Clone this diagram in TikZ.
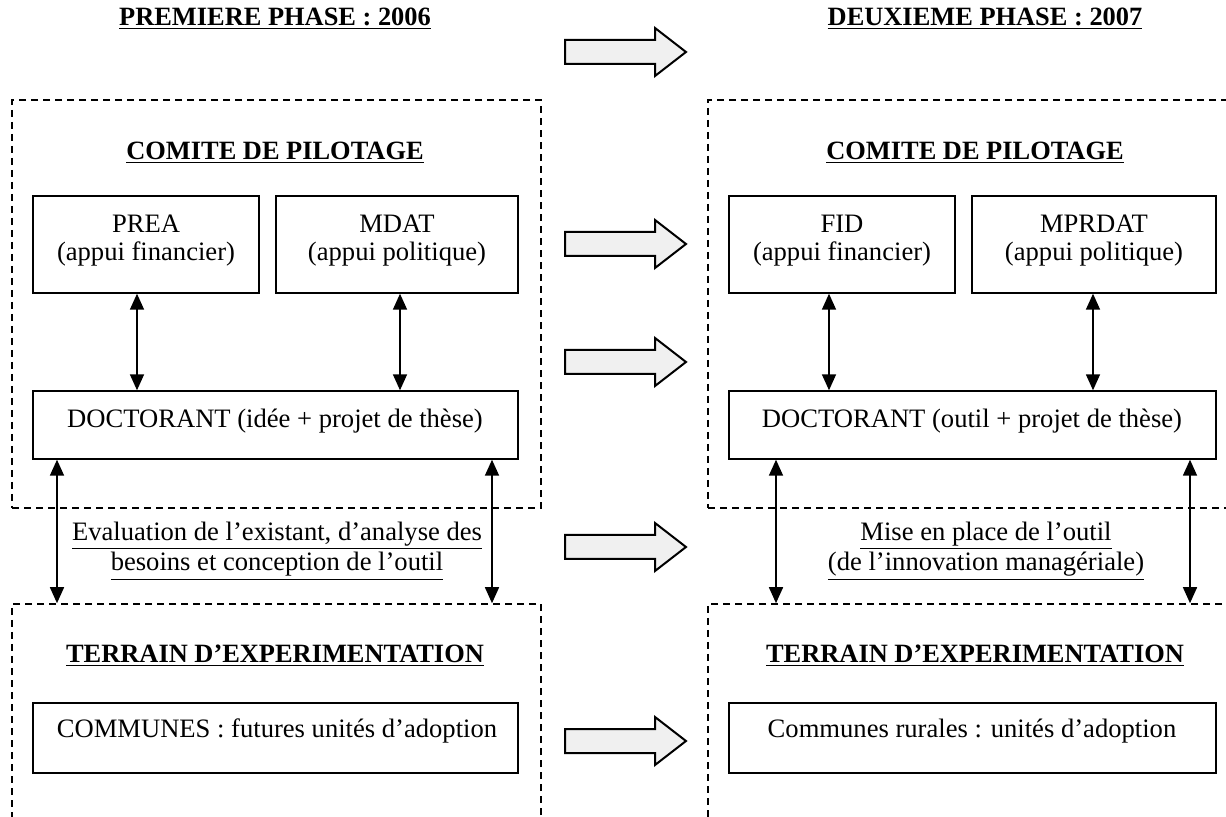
\documentclass[tikz,border=0pt]{standalone}
\usepackage{fontspec}
\setmainfont{Liberation Serif}
\usetikzlibrary{arrows.meta,fit}
\newcommand\blockarr[2]{%
  \draw[barrow] (#1,#2-12) -- (#1+90,#2-12) -- (#1+90,#2-24) -- (#1+121,#2) -- (#1+90,#2+24) -- (#1+90,#2+12) -- (#1,#2+12) -- cycle;}
\newcommand\ul[1]{\underline{#1}}
\begin{document}
\begin{tikzpicture}[x=0.5pt,y=-0.5pt,
  every node/.style={font=\fontsize{13.3}{14}\selectfont, inner sep=0pt},
  box/.style={draw, line width=0.7pt},
  zone/.style={draw, dash pattern=on 3.5pt off 2.5pt, line width=0.8pt},
  txt/.style={align=center},
  ttl/.style={font=\fontsize{13.2}{14}\selectfont\bfseries},
  link/.style={{Triangle[length=8pt,width=7pt]}-{Triangle[length=8pt,width=7pt]}, line width=0.8pt},
  barrow/.style={draw, line width=1pt, fill=gray!12}]
\useasboundingbox (0,0) rectangle (1226,817);
\clip (0,0) rectangle (1226,817);

% dashed zones
\node[zone, fit={(12,100) (541,508)}] (zL1) {};
\node[zone, fit={(12,604) (541,850)}] (zL2) {};
\node[zone, fit={(708,100) (1250,508)}] (zR1) {};
\node[zone, fit={(708,604) (1250,850)}] (zR2) {};

% boxes
\node[box, fit={(33,196) (259,293)}] (prea) {};
\node[box, fit={(276,196) (518,293)}] (mdat) {};
\node[box, fit={(33,391) (518,459)}] (docL) {};
\node[box, fit={(33,703) (518,773)}] (comL) {};
\node[box, fit={(729,196) (955,293)}] (fid) {};
\node[box, fit={(972,196) (1216,293)}] (mprdat) {};
\node[box, fit={(729,391) (1216,459)}] (docR) {};
\node[box, fit={(729,703) (1216,773)}] (comR) {};

% titles
\node[ttl] (ph1) at (275,19) {\ul{PREMIERE PHASE : 2006}};
\node[ttl] (ph2) at (985,19) {\ul{DEUXIEME PHASE : 2007}};
\node[ttl] (cp1) at (275,153) {\ul{COMITE DE PILOTAGE}};
\node[ttl] (cp2) at (975,153) {\ul{COMITE DE PILOTAGE}};
\node[ttl] (te1) at (275,656) {\ul{TERRAIN D’EXPERIMENTATION}};
\node[ttl] (te2) at (975,656) {\ul{TERRAIN D’EXPERIMENTATION}};

% box texts
\node[txt] (preat) at (146,241) {PREA\\(appui financier)};
\node[txt] (mdatt) at (397,241) {MDAT\\(appui politique)};
\node[txt] (fidt) at (842,241) {FID\\(appui financier)};
\node[txt] (mprdatt) at (1094,241) {MPRDAT\\(appui politique)};
\node (docLt) at (275,421) {DOCTORANT (idée + projet de thèse)};
\node (docRt) at (972,421) {DOCTORANT (outil + projet de thèse)};
\node (comLt) at (277,731) {COMMUNES : futures unités d’adoption};
\node (comRt) at (972,731) {Communes rurales : unités d’adoption};

% labels
\node[txt] (labL) at (277,551) {\ul{Evaluation de l’existant, d’analyse des}\\\ul{besoins et conception de l’outil}};
\node[txt] (labR) at (986,551) {\ul{Mise en place de l’outil}\\\ul{(de l’innovation managériale)}};

% connector x positions
\coordinate (a1) at (137,0);
\coordinate (a2) at (400,0);
\coordinate (a3) at (57,0);
\coordinate (a4) at (492,0);
\coordinate (b1) at (829,0);
\coordinate (b2) at (1093,0);
\coordinate (b3) at (776,0);
\coordinate (b4) at (1190,0);

\draw[link] (prea.south -| a1) -- (docL.north -| a1);
\draw[link] (mdat.south -| a2) -- (docL.north -| a2);
\draw[link] (docL.south -| a3) -- (zL2.north -| a3);
\draw[link] (docL.south -| a4) -- (zL2.north -| a4);
\draw[link] (fid.south -| b1) -- (docR.north -| b1);
\draw[link] (mprdat.south -| b2) -- (docR.north -| b2);
\draw[link] (docR.south -| b3) -- (zR2.north -| b3);
\draw[link] (docR.south -| b4) -- (zR2.north -| b4);

% block arrows
\blockarr{565}{52}
\blockarr{565}{244}
\blockarr{565}{362}
\blockarr{565}{547}
\blockarr{565}{741}
\end{tikzpicture}
\end{document}
